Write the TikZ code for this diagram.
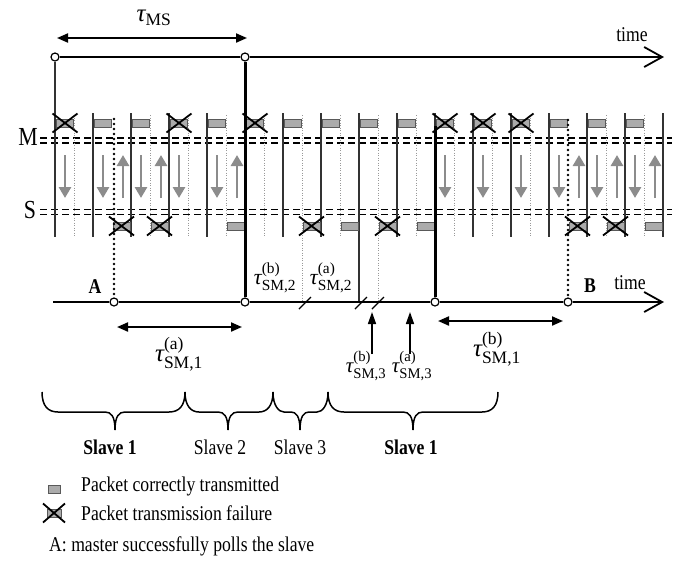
\documentclass[tikz,border=0pt]{standalone}
\usepackage{amsmath}
\usepackage{fontspec}
\setmainfont{Liberation Serif}
\usepackage{graphicx}
\usetikzlibrary{arrows.meta}
\newcommand\hs[1]{\scalebox{0.84}[1]{#1}}
\newcommand\tauL[2]{$\text{\itshape τ}^{\text{(#1)}}_{\text{SM,#2}}$}
\newcommand\mybrace[5]{%
  \draw[brace] (#1,392) .. controls (#1,406) and (#1+6,412) .. (#1+#4,412)
    -- (#2-#5,412) .. controls (#2-4,412) and (#2,416) .. (#2,430)
    .. controls (#2,416) and (#2+4,412) .. (#2+#5,412)
    -- (#3-#4,412) .. controls (#3-6,412) and (#3,406) .. (#3,392);}
\begin{document}
\begin{tikzpicture}[x=1pt,y=-1pt,
  slotline/.style={line width=1.3pt, black!80},
  halfline/.style={line width=0.9pt, black!40, dash pattern=on 1pt off 1.5pt},
  pkt/.style={draw=black!65, fill=black!33, line width=0.9pt},
  xline/.style={line width=1.8pt, black},
  garrow/.style={line width=2.8pt, black!45, -{Triangle[length=11pt,width=12pt]}},
  timeaxis/.style={line width=1.8pt, -{Straight Barb[length=18pt,width=20pt]}},
  dblarrow/.style={line width=2pt, {Triangle[length=11pt,width=9pt]}-{Triangle[length=11pt,width=9pt]}},
  smallup/.style={line width=1.5pt, -{Triangle[length=12pt,width=8pt]}},
  tdot/.style={circle, draw, fill=white, line width=1.2pt, inner sep=0pt, minimum size=8pt},
  heavy/.style={line width=3pt},
  poll/.style={line width=2.6pt, dash pattern=on 0pt off 5pt, line cap=round},
  dashrow/.style={line width=1.7pt, dash pattern=on 7pt off 4pt},
  lab/.style={font=\fontsize{21}{23}\selectfont, inner sep=0pt},
  mlab/.style={font=\fontsize{25}{27}\selectfont, inner sep=0pt},
  slab/.style={font=\fontsize{22}{24}\selectfont, inner sep=0pt},
  smthree/.style={font=\fontsize{21}{23}\selectfont, inner sep=0pt},
  bigl/.style={font=\fontsize{26}{28}\selectfont, inner sep=0pt},
  brace/.style={line width=1.5pt}
]
\useasboundingbox (0,0) rectangle (694,563);

% M and S labels and dashed double lines
\node[bigl] (Mlab) at (28,137) {\hs{M}};
\node[bigl] (Slab) at (30,210) {\hs{S}};
\foreach \yy in {138,143,209.5,214.5} {\draw[dashrow] (40,\yy) -- (672,\yy);}

% circles on the time axes
\node[tdot] (t0) at (55,57) {};
\node[tdot] (t1) at (245,57) {};
\coordinate (tend) at (664,57);
\coordinate (L0) at (53,302);
\node[tdot] (A) at (114,302) {};
\node[tdot] (b1) at (245,302) {};
\node[tdot] (b2) at (435,302) {};
\node[tdot] (B) at (568,302) {};
\coordinate (Lend) at (664,302);

% dotted half-slot lines
\foreach \k in {0,2,3,4,5,7,9,10,11,12,14,15} {
  \pgfmathsetmacro\xx{55+38*\k+19}
  \draw[halfline] (\xx,115) -- (\xx,237);}
\foreach \k in {6,8} {
  \pgfmathsetmacro\xx{55+38*\k+19}
  \draw[halfline] (\xx,115) -- (\xx,302);}

% solid slot lines
\foreach \k in {1,2,3,4,6,7,9,10,11,12,13,14,15,16} {
  \pgfmathsetmacro\xx{55+38*\k}
  \draw[slotline] (\xx,113) -- (\xx,237);}
\draw[slotline] (359,113) -- (359,302);
\draw[slotline] (t0) -- (55,237);

% master packets
\foreach \k in {1,2,4,6,7,8,9,13,14,15,0,3,5,10,11,12} {
  \pgfmathsetmacro\xx{55+38*\k}
  \draw[pkt] (\xx+1,119) rectangle (\xx+18,127);}
\foreach \k in {0,3,5,10,11,12} {
  \pgfmathsetmacro\xx{55+38*\k+10}
  \draw[xline] (\xx-12.5,113.5) -- (\xx+12.5,132.5);
  \draw[xline] (\xx-12.5,132.5) -- (\xx+12.5,113.5);}
% slave packets
\foreach \k in {4,7,9,15,1,2,6,8,13,14} {
  \pgfmathsetmacro\xx{55+38*\k}
  \draw[pkt] (\xx+20,222) rectangle (\xx+37,230);}
\foreach \k in {1,2,6,8,13,14} {
  \pgfmathsetmacro\xx{55+38*\k+28.5}
  \draw[xline] (\xx-12.5,216.5) -- (\xx+12.5,235.5);
  \draw[xline] (\xx-12.5,235.5) -- (\xx+12.5,216.5);}

% grey transmission arrows
\foreach \k in {0,1,2,3,4,10,11,12,13,14,15} {
  \pgfmathsetmacro\xx{55+38*\k+10}
  \draw[garrow] (\xx,155) -- (\xx,198);}
\foreach \k in {1,2,4,13,14,15} {
  \pgfmathsetmacro\xx{55+38*\k+30}
  \draw[garrow] (\xx,198) -- (\xx,155);}

% time axes
\draw[timeaxis] (t0) -- (t1) -- (tend);
\draw[timeaxis] (L0) -- (A) -- (b1) -- (b2) -- (B) -- (Lend);
\draw[heavy] (t1) -- (b1);
\coordinate (ktop) at (435,126);
\draw[heavy] (ktop) -- (b2);
\coordinate (Atop) at (114,119);
\draw[poll] (Atop) -- (A);
\coordinate (Btop) at (568,120);
\draw[poll] (Btop) -- (B);

% slashes on lower axis
\draw[line width=1.4pt] (299,309) -- (311,297);
\draw[line width=1.4pt] (355,309) -- (367,297);
\draw[line width=1.4pt] (372,309) -- (384,297);

% interval arrows
\coordinate (msL) at (57,38); \coordinate (msR) at (247,38);
\draw[dblarrow] (msL) -- (msR);
\coordinate (a1L) at (117,327); \coordinate (a1R) at (242,327);
\draw[dblarrow] (a1L) -- (a1R);
\coordinate (b1L) at (438,321); \coordinate (b1R) at (563,321);
\draw[dblarrow] (b1L) -- (b1R);
\coordinate (u1s) at (372,354); \coordinate (u1e) at (372,312);
\draw[smallup] (u1s) -- (u1e);
\coordinate (u2s) at (410,354); \coordinate (u2e) at (410,312);
\draw[smallup] (u2s) -- (u2e);

% labels
\node[mlab] (tauMS) at (154,18) {$\text{\itshape τ}_{\text{MS}}$};
\node[mlab] (ta1) at (179,354) {\tauL{a}{1}};
\node[mlab] (tb1) at (497,349) {\tauL{b}{1}};
\node[slab] (tb2) at (275,278) {\tauL{b}{2}};
\node[slab] (ta2) at (331,278) {\tauL{a}{2}};
\node[smthree] (tb3) at (366,366) {\tauL{b}{3}};
\node[smthree] (ta3) at (412,366) {\tauL{a}{3}};
\node[lab] (timeT) at (632,35) {\hs{time}};
\node[lab] (timeB) at (630,283) {\hs{time}};
\node[lab] (Alab) at (95,287) {\hs{\bfseries A}};
\node[lab] (Blab) at (590,286) {\hs{\bfseries B}};

% braces
\mybrace{42}{115}{185}{16}{10}
\mybrace{185}{228}{273}{14}{10}
\mybrace{273}{300}{328}{11}{9}
\mybrace{328}{413}{498}{16}{10}
\node[lab] (sl1) at (110,447) {\hs{\bfseries Slave 1}};
\node[lab] (sl2) at (220,447) {\hs{Slave 2}};
\node[lab] (sl3) at (300,447) {\hs{Slave 3}};
\node[lab] (sl4) at (411,447) {\hs{\bfseries Slave 1}};

% legend
\draw[pkt] (48,485) rectangle (60,493);
\draw[pkt] (47,509) rectangle (61,517);
\draw[xline] (43,503.5) -- (65,522.5);
\draw[xline] (43,522.5) -- (65,503.5);
\node[lab, anchor=west] (leg1) at (81,486) {\hs{Packet correctly transmitted}};
\node[lab, anchor=west] (leg2) at (81,513) {\hs{Packet transmission failure}};
\node[lab, anchor=west] (leg3) at (49,546) {\hs{A: master successfully polls the slave}};
\end{tikzpicture}
\end{document}
